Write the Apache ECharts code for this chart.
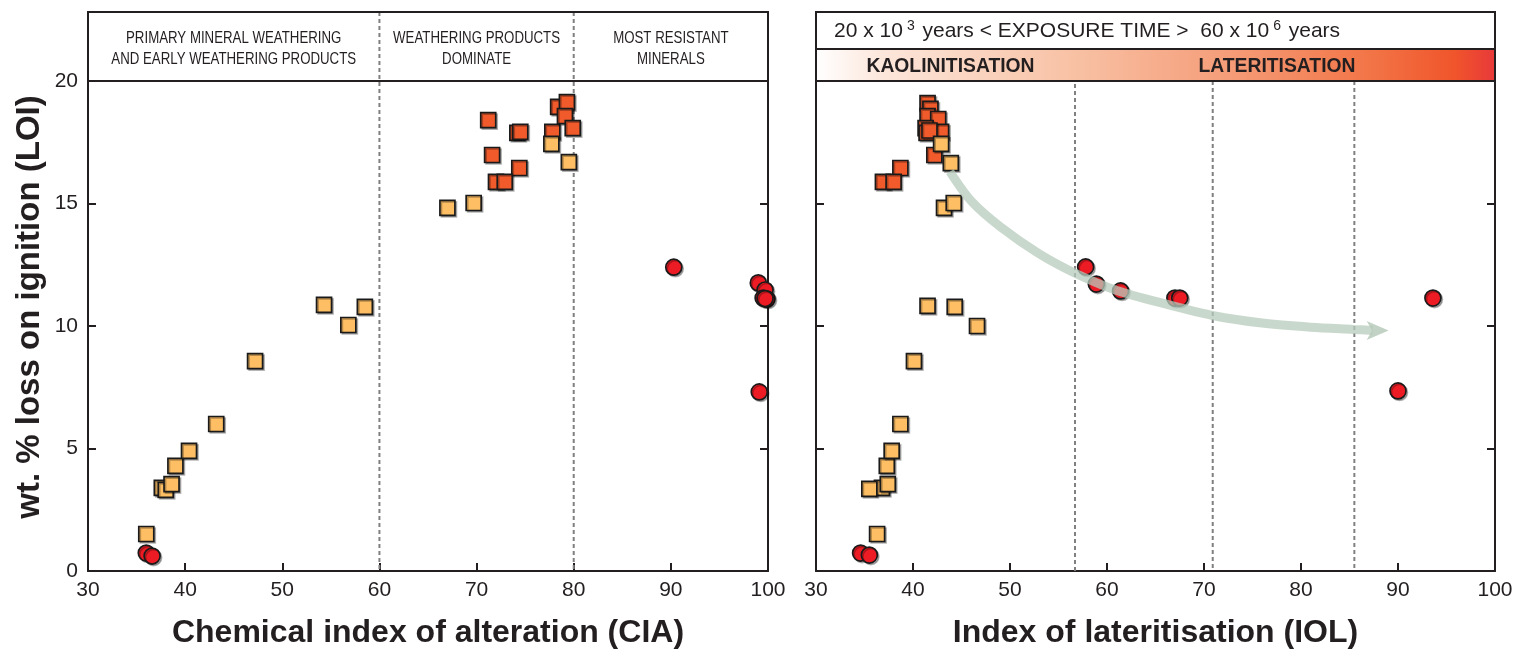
<!DOCTYPE html>
<html><head><meta charset="utf-8">
<script src="https://cdn.jsdelivr.net/npm/echarts@6/dist/echarts.min.js"></script>
<style>html,body{margin:0;padding:0;background:#fff}#c{width:1526px;height:656px}</style>
</head><body><div id="c"></div>
<script>
// ---- data ----
const xMin = 30, xMax = 100, xStep = 10;
const yMin = 0, yMax = 20, yStep = 5;

// Left panel: CIA vs LOI
const lightCIA = [[36.0,1.51],[37.6,3.39],[38.0,3.31],[38.6,3.55],[39.0,4.29],[40.4,4.9],[43.2,6.0],[47.2,8.57],[54.3,10.86],[56.8,10.04],[58.5,10.78],[67.0,14.82],[69.7,15.02],[77.7,17.43],[79.5,16.69]];
const darkCIA = [[71.2,18.4],[71.6,16.98],[74.2,17.88],[74.5,17.92],[77.8,17.92],[78.4,18.94],[79.3,19.14],[79.1,18.57],[79.9,18.08],[74.4,16.45],[72.0,15.88],[72.9,15.88]];
const circCIA = [[36.0,0.73],[36.6,0.61],[90.3,12.4],[99.0,11.76],[99.7,11.47],[99.5,11.14],[99.9,11.1],[99.7,11.12],[99.1,7.31]];

// Right panel: IOL vs LOI
const lightIOL = [[36.3,1.51],[36.8,3.39],[35.5,3.35],[37.4,3.55],[37.3,4.29],[37.8,4.9],[38.7,6.0],[40.1,8.57],[41.5,10.82],[46.6,10.0],[44.3,10.78],[43.2,14.82],[44.2,15.02],[42.9,17.43],[43.9,16.65]];
const darkIOL = [[41.5,19.1],[41.8,18.86],[41.5,18.57],[42.6,18.45],[41.3,18.08],[42.9,17.92],[41.4,17.88],[41.7,17.98],[42.2,16.98],[38.7,16.45],[36.9,15.88],[38.0,15.88]];
const circIOL = [[34.6,0.73],[35.5,0.65],[57.8,12.41],[58.9,11.71],[61.4,11.43],[67.0,11.14],[67.5,11.14],[93.6,11.14],[90.0,7.35]];

// annotation arrow (trend), in IOL/LOI units
const arrowPath = [[43.8,16.3],[46.0,15.1],[49.0,14.05],[53.0,12.95],[57.0,12.1],[61.0,11.45],[66.0,10.9],[71.0,10.42],[76.0,10.12],[81.0,9.95],[85.4,9.86],[87.4,9.82]];
const arrowTip = [[87.9,9.82]];

// reference lines and header texts
const ciaDividers = [60, 80];
const iolDividers = [56.7, 70.9, 85.5];
const ciaZones = [
  {from:30, to:60, lines:['PRIMARY MINERAL WEATHERING','AND EARLY WEATHERING PRODUCTS']},
  {from:60, to:80, lines:['WEATHERING PRODUCTS','DOMINATE']},
  {from:80, to:100, lines:['MOST RESISTANT','MINERALS']}
];
const exposureText = '20 x 10{sup|3} years < EXPOSURE TIME >  60 x 10{sup|6} years';
const stageLabels = ['KAOLINITISATION', 'LATERITISATION'];
const yTitle = 'wt. % loss on ignition (LOI)';

// ---- styles ----
const INK = '#231F20';
const FONT = '"Liberation Sans", Arial, sans-serif';
const C_LIGHT = '#FDBE64', C_DARK = '#F15A2B', C_RED = '#ED1C24';
const TOP = 81, HDR = 12, BOTTOM = 85;

const chart = echarts.init(document.getElementById('c'), null, {renderer:'canvas'});

function xAxisCfg(gi, name){
  return {
    gridIndex: gi, type:'value', min:xMin, max:xMax, interval:xStep,
    name: name, nameLocation:'middle', nameGap: 46,
    nameTextStyle:{fontSize:32, fontWeight:'bold', color:INK, fontFamily:FONT},
    axisLine:{onZero:false, lineStyle:{color:INK, width:2}},
    axisTick:{inside:true, length:8, lineStyle:{color:INK, width:2}},
    axisLabel:{fontSize:21, color:INK, fontFamily:FONT, margin:9},
    splitLine:{show:false}
  };
}
function yAxisCfg(gi, pos, labels){
  return {
    gridIndex: gi, type:'value', min:yMin, max:yMax, interval:yStep, position:pos,
    axisLine:{onZero:false, lineStyle:{color:INK, width:2}},
    axisTick:{inside:true, length:8, lineStyle:{color:INK, width:2}},
    axisLabel:{show:labels, fontSize:21, color:INK, fontFamily:FONT, margin:10},
    splitLine:{show:false}
  };
}
const shadow = {shadowBlur:0, shadowColor:'rgba(0,0,0,0.28)', shadowOffsetX:1.5, shadowOffsetY:1.5};
function sq(data, color, xi, yi){
  return {type:'scatter', xAxisIndex:xi, yAxisIndex:yi, data:data, symbol:'rect', symbolSize:15,
    itemStyle:Object.assign({color:color, borderColor:'#1a1a1a', borderWidth:1.7, opacity:1}, shadow), silent:true, z:3};
}
function ci(data, xi, yi){
  return {type:'scatter', xAxisIndex:xi, yAxisIndex:yi, data:data, symbol:'circle', symbolSize:16,
    itemStyle:Object.assign({color:C_RED, borderColor:'#1a1a1a', borderWidth:1.7, opacity:1}, shadow), silent:true, z:4};
}

chart.setOption({
  animation:false,
  grid:[
    {left:88, right:758, top:TOP, bottom:BOTTOM, outerBoundsMode:'none', containLabel:false},
    {left:816, right:31, top:TOP, bottom:BOTTOM, outerBoundsMode:'none', containLabel:false}
  ],
  xAxis:[xAxisCfg(0,'Chemical index of alteration (CIA)'), xAxisCfg(1,'Index of lateritisation (IOL)')],
  yAxis:[yAxisCfg(0,'left',true), yAxisCfg(0,'right',false),
         yAxisCfg(1,'left',false), yAxisCfg(1,'right',false)],
  series:[
    sq(darkCIA, C_DARK, 0, 0), sq(lightCIA, C_LIGHT, 0, 0), ci(circCIA, 0, 0),
    sq(darkIOL, C_DARK, 1, 2), sq(lightIOL, C_LIGHT, 1, 2), ci(circIOL, 1, 2),
    {type:'line', xAxisIndex:1, yAxisIndex:2, data:arrowPath, smooth:0.3, symbol:'none', silent:true, z:6,
     lineStyle:{color:'#B7CBBB', width:9, opacity:0.75, cap:'butt'}},
    {type:'scatter', xAxisIndex:1, yAxisIndex:2, data:arrowTip, silent:true, z:6,
     symbol:'path://M0,0L24,10L0,20L6,10Z', symbolSize:[22,19],
     itemStyle:{color:'#B7CBBB', opacity:0.85}}
  ]
});

// ---- header boxes & divider lines (positions from the axes) ----
const px = (gi, v) => chart.convertToPixel({xAxisIndex:gi}, v);
const yBase = chart.convertToPixel({yAxisIndex:0}, 0);
const yTop = chart.convertToPixel({yAxisIndex:0}, yMax);
const L0 = px(0, xMin), L1 = px(0, xMax), R0 = px(1, xMin), R1 = px(1, xMax);
const BAND = 49;
const g = [];
const dash = (x, y1, y2) => ({type:'line', z:2, silent:true, shape:{x1:x, y1:y1, x2:x, y2:y2},
  style:{stroke:'#808080', lineWidth:2, lineDash:[4,3]}});

ciaDividers.forEach(v => g.push(dash(px(0,v), HDR, yBase)));
iolDividers.forEach((v,i) => g.push(dash(px(1,v), i===0 ? BAND : yTop, yBase)));

// y-axis title
g.push({type:'text', z:6, silent:true, x:30, y:307, rotation:Math.PI/2,
  style:{text:yTitle, fill:INK, font:'bold 33px ' + FONT, align:'center', verticalAlign:'middle'}});

// left header
g.push({type:'rect', z:5, silent:true, shape:{x:L0, y:HDR, width:L1-L0, height:yTop-HDR}, style:{fill:'none', stroke:INK, lineWidth:2}});
ciaZones.forEach(zn => {
  const cx = (px(0,zn.from) + px(0,zn.to)) / 2;
  zn.lines.forEach((t, k) => g.push({type:'text', z:5, silent:true, x:cx, y:38 + k*21, scaleX:0.78,
    style:{text:t, fill:INK, font:'17px ' + FONT, align:'center', verticalAlign:'middle'}}));
});

// right header
g.push({type:'rect', z:4, silent:true, shape:{x:R0, y:BAND, width:R1-R0, height:yTop-BAND},
  style:{fill:new echarts.graphic.LinearGradient(0,0,1,0,[
    {offset:0,color:'#FFFFFF'},{offset:0.1,color:'#FCE6DA'},{offset:0.38,color:'#F8C1A4'},
    {offset:0.6,color:'#F59E7A'},{offset:0.82,color:'#F27446'},{offset:0.94,color:'#F0552B'},{offset:1,color:'#E8393A'}])}});
g.push({type:'rect', z:5, silent:true, shape:{x:R0, y:HDR, width:R1-R0, height:yTop-HDR}, style:{fill:'none', stroke:INK, lineWidth:2}});
g.push({type:'line', z:5, silent:true, shape:{x1:R0, y1:BAND, x2:R1, y2:BAND}, style:{stroke:INK, lineWidth:2}});
g.push(dash(px(1,iolDividers[0]), BAND, yTop));
g.push({type:'text', z:6, silent:true, x:R0 + 18, y:31,
  style:{text:exposureText, fill:INK, font:'21px ' + FONT, align:'left', verticalAlign:'middle',
    rich:{sup:{fontSize:14, fontFamily:FONT, fill:INK, verticalAlign:'top', padding:[0,2,10,4]}}}});
const stageX = [(R0 + px(1,iolDividers[0]))/2 + 5, (px(1,iolDividers[0]) + R1)/2 - 8];
stageLabels.forEach((t,i) => g.push({type:'text', z:6, silent:true, x:stageX[i], y:66, scaleX:0.92,
  style:{text:t, fill:INK, font:'bold 21px ' + FONT, align:'center', verticalAlign:'middle'}}));

chart.setOption({graphic:{elements:g}});
</script></body></html>
